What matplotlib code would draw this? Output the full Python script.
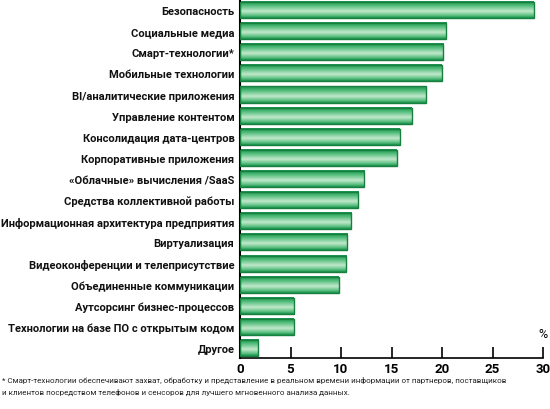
import numpy as np
import matplotlib
matplotlib.use('Agg')
import matplotlib.pyplot as plt
from matplotlib.colors import LinearSegmentedColormap

categories = [
    'Безопасность',
    'Социальные медиа',
    'Смарт-технологии*',
    'Мобильные технологии',
    'BI/аналитические приложения',
    'Управление контентом',
    'Консолидация дата-центров',
    'Корпоративные приложения',
    '«Облачные» вычисления /SaaS',
    'Средства коллективной работы',
    'Информационная архитектура предприятия',
    'Виртуализация',
    'Видеоконференции и телеприсутствие',
    'Объединенные коммуникации',
    'Аутсорсинг бизнес-процессов',
    'Технологии на базе ПО с открытым кодом',
    'Другое',
]
values = [29.1, 20.4, 20.1, 20.0, 18.4, 17.0, 15.8, 15.5, 12.3, 11.7,
          11.0, 10.6, 10.5, 9.8, 5.3, 5.3, 1.8]
xticks = [0, 5, 10, 15, 20, 25, 30]
footnote = ('* Смарт-технологии обеспечивают захват, обработку и представление в реальном времени '
            'информации от партнеров, поставщиков\n'
            'и клиентов посредством телефонов и сенсоров для лучшего мгновенного анализа данных.')

plt.rcParams['font.family'] = ['Roboto', 'DejaVu Sans']

fig = plt.figure(figsize=(5.5, 4.1), dpi=100)
ax = fig.add_axes([240 / 550, 51 / 410, 303 / 550, 359 / 410])

# cylinder-like green gradient for the bars
grad = LinearSegmentedColormap.from_list('g', [
    (0.0, '#1a9450'), (0.25, '#4fbb78'), (0.6, '#c2e9cc'),
    (0.85, '#62c285'), (1.0, '#1a9450')])
col = grad(np.linspace(0, 1, 32))[:, None, :]

h = 0.76
y = np.arange(len(categories))
for yi, v in zip(y, values):
    ax.imshow(col, extent=(0, v, yi + h / 2, yi - h / 2), origin='upper',
              aspect='auto', zorder=2, interpolation='bilinear')
ax.barh(y, values, height=h, fill=False, edgecolor='#17803f', linewidth=1.0, zorder=3)

ax.set_xlim(0, 30)
ax.set_ylim(16 + 0.47, -0.52)
ax.set_yticks(y)
ax.set_yticklabels(categories, fontsize=8, fontweight='bold', color='#111111')
ax.tick_params(axis='y', length=0, pad=4)
ax.set_xticks(xticks)
ax.set_xticklabels([str(t) for t in xticks], fontsize=9.5, fontweight='bold')
ax.tick_params(axis='x', direction='in', length=8, width=1.2, pad=3)
for s in ['top', 'right']:
    ax.spines[s].set_visible(False)
ax.spines['left'].set_linewidth(1.5)
ax.spines['bottom'].set_linewidth(1.2)
ax.set_facecolor('none')

ax.text(30, 15.3, '%', fontsize=9, ha='center', va='center')
fig.text(2 / 550, 1 - 377 / 410, footnote, fontsize=5.8, ha='left', va='top',
         linespacing=1.8, color='#222222')

fig.savefig('out.png', dpi=100)
